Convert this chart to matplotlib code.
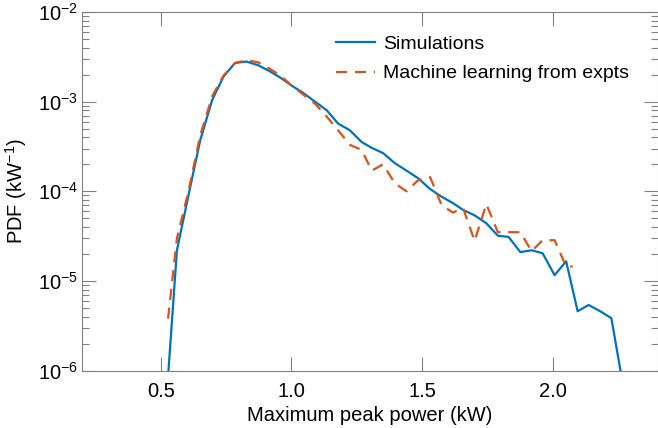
import matplotlib
matplotlib.use("Agg")
import matplotlib.pyplot as plt
from matplotlib.ticker import LogLocator, MultipleLocator

plt.rcParams['font.family'] = ['Liberation Sans', 'DejaVu Sans']
plt.rcParams['mathtext.fontset'] = 'custom'
plt.rcParams['mathtext.rm'] = 'Liberation Sans'
plt.rcParams['mathtext.it'] = 'Liberation Sans:italic'
plt.rcParams['mathtext.default'] = 'regular'

# Simulations (blue)
sim_x = [0.520, 0.562, 0.606, 0.651, 0.697, 0.740, 0.784, 0.828, 0.872, 0.915,
         0.958, 1.002, 1.045, 1.090, 1.135, 1.178, 1.223, 1.268, 1.307, 1.350,
         1.395, 1.440, 1.484, 1.530, 1.574, 1.617, 1.656, 1.700, 1.745, 1.789,
         1.830, 1.875, 1.918, 1.960, 2.006, 2.050, 2.094, 2.136, 2.180, 2.223,
         2.267]
sim_y = [4e-7, 2.2e-5, 9e-5, 3.7e-4, 1.05e-3, 1.9e-3, 2.7e-3, 2.8e-3, 2.55e-3, 2.2e-3,
         1.85e-3, 1.5e-3, 1.25e-3, 1.0e-3, 8.0e-4, 5.7e-4, 4.8e-4, 3.55e-4, 3.05e-4, 2.67e-4,
         2.06e-4, 1.7e-4, 1.4e-4, 1.06e-4, 8.7e-5, 7.4e-5, 6.2e-5, 5.4e-5, 4.4e-5, 3.2e-5,
         3.1e-5, 2.1e-5, 2.2e-5, 2.04e-5, 1.16e-5, 1.66e-5, 4.6e-6, 5.4e-6, 4.6e-6, 3.85e-6,
         7e-7]

# Machine learning from experiments (orange, dashed)
ml_x = [0.528, 0.562, 0.606, 0.651, 0.697, 0.740, 0.784, 0.828, 0.872, 0.915,
        0.958, 1.002, 1.045, 1.090, 1.135, 1.178, 1.223, 1.268, 1.307, 1.350,
        1.395, 1.440, 1.484, 1.530, 1.574, 1.617, 1.656, 1.700, 1.745, 1.789,
        1.830, 1.875, 1.918, 1.960, 2.006, 2.050, 2.075]
ml_y = [3.8e-6, 3.0e-5, 1.0e-4, 4.2e-4, 1.15e-3, 1.95e-3, 2.7e-3, 2.9e-3, 2.75e-3, 2.35e-3,
        1.95e-3, 1.5e-3, 1.2e-3, 9.5e-4, 6.8e-4, 4.8e-4, 3.3e-4, 2.9e-4, 1.7e-4, 2.0e-4,
        1.23e-4, 1.0e-4, 1.33e-4, 1.44e-4, 7.0e-5, 5.8e-5, 6.5e-5, 2.8e-5, 7.2e-5, 3.5e-5,
        3.5e-5, 3.5e-5, 2.15e-5, 2.85e-5, 2.85e-5, 1.45e-5, 1.45e-5]

fig = plt.figure(figsize=(6.58, 4.28), dpi=100)
ax = fig.add_axes([0.125, 0.134, 0.8745, 0.838])

ax.plot(sim_x, sim_y, color='#0072BD', lw=1.6, label='Simulations')
ax.plot(ml_x, ml_y, color='#D95319', lw=1.6, ls=(0, (5, 3.5)),
        label='Machine learning from expts')

ax.set_yscale('log')
ax.set_xlim(0.2, 2.4)
ax.set_ylim(1e-6, 1e-2)
ax.xaxis.set_major_locator(MultipleLocator(0.5))
ax.xaxis.set_major_formatter(plt.FormatStrFormatter('%.1f'))
ax.yaxis.set_major_locator(LogLocator(base=10, numticks=10))
ax.yaxis.set_minor_locator(LogLocator(base=10, subs=range(2, 10), numticks=10))

gray = '#808080'
for s in ax.spines.values():
    s.set_color(gray)
    s.set_linewidth(0.8)
ax.tick_params(which='both', direction='in', top=True, right=True, color=gray,
               labelsize=14.5, labelcolor='black')
ax.tick_params(which='major', length=10, width=0.8)
ax.tick_params(which='minor', length=5, width=0.8)
ax.tick_params(axis='x', pad=8)
ax.tick_params(axis='y', pad=3)

ax.set_xlabel('Maximum peak power (kW)', fontsize=14.5, labelpad=4)
ax.set_ylabel('PDF (kW$^{-1}$)', fontsize=14.5, labelpad=6)

ax.legend(loc='upper right', frameon=False, fontsize=14, handlelength=2.0,
          bbox_to_anchor=(0.980, 0.983), labelspacing=0.6, handletextpad=0.4)

plt.savefig('out.png', dpi=100)
